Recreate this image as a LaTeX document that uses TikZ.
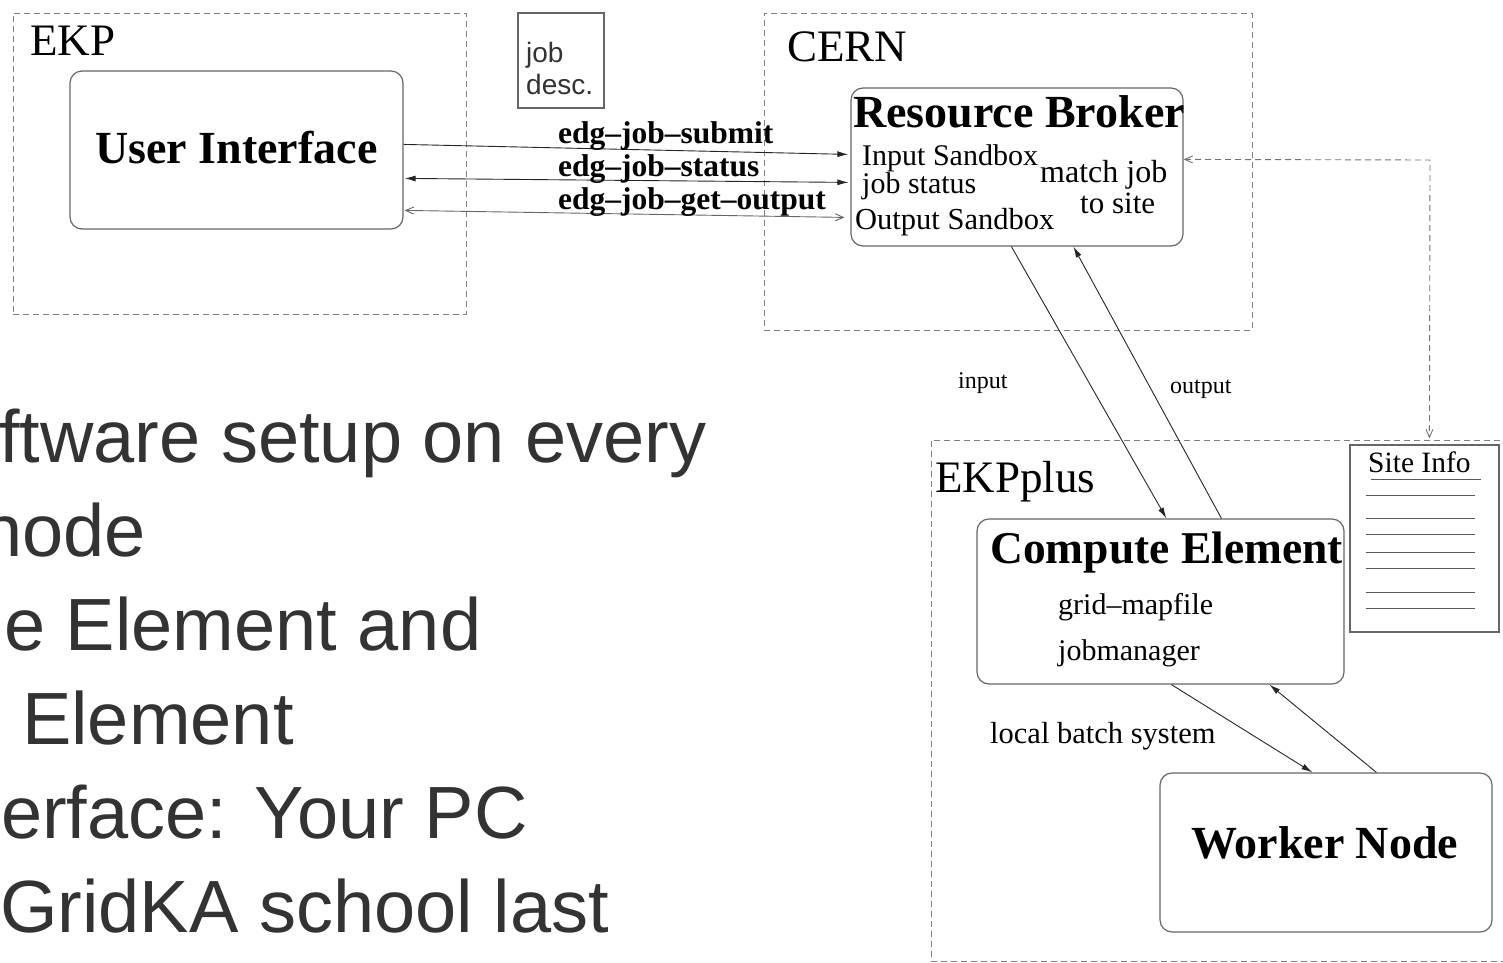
\documentclass[tikz,border=0pt]{standalone}
\usepackage{fontspec}
\setmainfont{Liberation Serif}
\newfontfamily\slidefont{Liberation Sans}
\usetikzlibrary{arrows.meta,calc}
\newcommand\pxsize[1]{\fontsize{#1}{#1}\selectfont}
\definecolor{slidegray}{HTML}{333333}
\tikzset{
  region/.style={draw=black!50, dash pattern=on 6pt off 4pt, line width=1pt, inner sep=0pt},
  rbox/.style={draw=black!60, rounded corners=12pt, line width=1.2pt, inner sep=0pt},
  sbox/.style={draw=black!60, line width=1.2pt, inner sep=0pt},
  title/.style={inner sep=0pt, anchor=base west, font=\pxsize{45.5}\bfseries},
  body/.style={inner sep=0pt, anchor=base west, font=\pxsize{30}},
  place/.style={inner sep=0pt, anchor=base west, font=\pxsize{45}},
  cmd/.style={inner sep=0pt, anchor=base west, font=\pxsize{31.5}\bfseries},
  small/.style={inner sep=0pt, anchor=base west, font=\pxsize{24}},
  slide/.style={inner sep=0pt, anchor=base west, text=slidegray, font=\slidefont\pxsize{74}},
  flow/.style={line width=0.9pt, draw=black!85, -{Latex[length=11pt,width=6pt]}},
  flowboth/.style={line width=0.9pt, draw=black!85, {Latex[length=11pt,width=6pt]}-{Latex[length=11pt,width=6pt]}},
  openboth/.style={line width=0.9pt, draw=black!60, {Straight Barb[length=8pt,width=7pt]}-{Straight Barb[length=8pt,width=7pt]}},
  infoline/.style={draw=black!65, line width=1pt}
}
\begin{document}
\begin{tikzpicture}[x=1pt,y=-1pt]
\useasboundingbox (0,0) rectangle (1503,962);
\clip (0,0) rectangle (1503,962);
\fill[white] (0,0) rectangle (1503,962);

% regions
\node[region, minimum width=453pt, minimum height=301pt] (ekp) at (239.5,163.5) {};
\node[region, minimum width=488pt, minimum height=317pt] (cern) at (1008,171.5) {};
\node[region, minimum width=584pt, minimum height=521pt] (ekpplus) at (1223,700.5) {};
\node[place] (ekpl) at (30,55) {EKP};
\node[place] (cernl) at (787,61) {CERN};
\node[place] (ekppl) at (935,492) {EKPplus};

% job description
\node[sbox, minimum width=86pt, minimum height=95pt] (jd) at (561,60.5) {};
\node[inner sep=0pt, anchor=base west, font=\slidefont\pxsize{28}, text=black!80] (jdt) at (526,62) {job};
\node[inner sep=0pt, anchor=base west, font=\slidefont\pxsize{28}, text=black!80] (jdt2) at (526,94) {desc.};

% boxes
\node[rbox, minimum width=333pt, minimum height=158pt] (ui) at (236.5,150) {};
\node[title, font=\pxsize{46}\bfseries] (uit) at (95,163) {User Interface};

\node[rbox, minimum width=332pt, minimum height=158pt] (rb) at (1017,167) {};
\node[title, font=\pxsize{46}\bfseries] (rbt) at (853,127) {Resource Broker};
\node[body] (rb1) at (862,165) {Input Sandbox};
\node[body] (rb2) at (862,193) {job status};
\node[body, font=\pxsize{30.5}] (rb3) at (855,229) {Output Sandbox};
\node[body, font=\pxsize{32}] (rb4) at (1040,182) {match job};
\node[body, font=\pxsize{31}] (rb5) at (1080,213) {to site};

\node[rbox, minimum width=367pt, minimum height=165pt] (ce) at (1160.5,601.5) {};
\node[title] (cet) at (990,563) {Compute Element};
\node[body] (ce1) at (1058,614) {grid--mapfile};
\node[body] (ce2) at (1058,660) {jobmanager};

\node[rbox, minimum width=332pt, minimum height=159pt] (wn) at (1326,852.5) {};
\node[title, font=\pxsize{46}\bfseries] (wnt) at (1191,858) {Worker Node};

% site info
\node[sbox, minimum width=149pt, minimum height=187pt] (si) at (1424.5,538.5) {};
\node[body, font=\pxsize{29.5}] (sit) at (1368,472) {Site Info};
\draw[infoline] ($(si.north west)+(22,35)$) -- ($(si.north west)+(132,35)$);
\foreach \yy in {51,74,90,108,124,148,164} {
  \draw[infoline] ($(si.north west)+(17,\yy)$) -- ($(si.north west)+(126,\yy)$);
}

% UI <-> RB commands
\draw[flow] ($(ui.north east)+(0,74)$) -- ($(rb.north west)+(-2,67)$);
\draw[flowboth] ($(ui.north east)+(1,108)$) -- ($(rb.north west)+(-2,95)$);
\draw[openboth] ($(ui.north east)+(1,140)$) -- ($(rb.north west)+(-6,130)$);
\node[cmd] (c1) at (558,143) {edg--job--submit};
\node[cmd] (c2) at (558,176) {edg--job--status};
\node[cmd] (c3) at (558,209) {edg--job--get--output};

% RB <-> CE
\draw[flow] ($(rb.south west)+(161,0)$) -- ($(ce.north west)+(190,0)$);
\draw[flow] ($(ce.north west)+(245,0)$) -- ($(rb.south west)+(223,0)$);
\node[small] (inl) at (958,388) {input};
\node[small] (outl) at (1170,393) {output};

% CE <-> WN
\draw[flow] ($(ce.south west)+(195,0)$) -- ($(wn.north west)+(153,0)$);
\draw[flow] ($(wn.north west)+(217,0)$) -- ($(ce.south west)+(293,0)$);
\node[body, font=\pxsize{30.5}] (lbs) at (990,743) {local batch system};

% site info -> RB (match)
\draw[line width=0.9pt, draw=black!55, dash pattern=on 6pt off 4pt,
  {Straight Barb[length=8pt,width=7pt]}-{Straight Barb[length=8pt,width=7pt]}]
  ($(rb.north east)+(0,72)$) -- (1430,160) -- ($(si.north west)+(80,-6)$);

% slide text (cropped at the left edge, as in the reference)
\node[slide] (s1) at (-1,462) {ftware setup on every};
\node[slide] (s2) at (-19,556) {node};
\node[slide] (s3) at (4,650) {e Element and};
\node[slide] (s4) at (22,744) {Element};
\node[slide] (s5) at (1,838) {erface: Your PC};
\node[slide] (s6) at (0,932) {GridKA school last};
\end{tikzpicture}
\end{document}
